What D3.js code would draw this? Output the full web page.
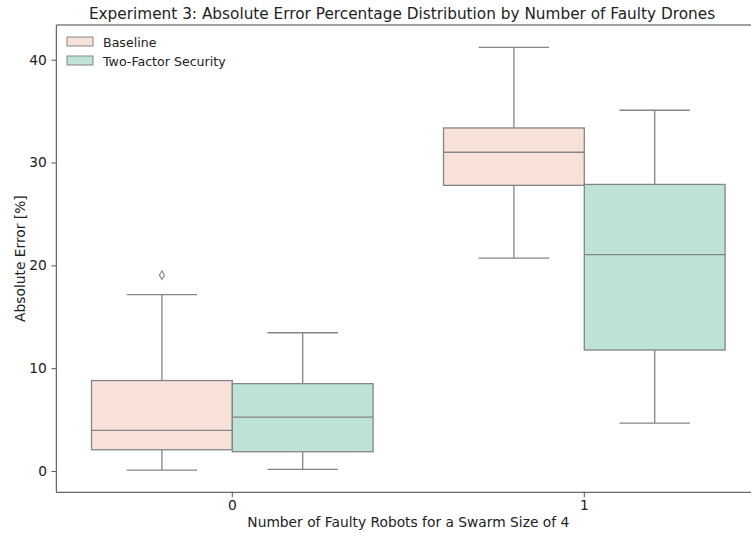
<!DOCTYPE html>
<html>
<head>
<meta charset="utf-8">
<script src="https://cdn.jsdelivr.net/npm/d3@7"></script>
<style>
body{margin:0;background:#fff;}
text{font-family:"DejaVu Sans",sans-serif;fill:#222;}
</style>
</head>
<body>
<script>
const categories=["0","1"];
const groups=["Baseline","Two-Factor Security"];
// [whiskerLow, q1, median, q3, whiskerHigh] per category
const baseline=[[0.1,2.07,3.95,8.8,17.15],[20.7,27.78,31.0,33.36,41.2]];
const twoFactor=[[0.16,1.88,5.24,8.5,13.45],[4.66,11.77,21.05,27.87,35.08]];
const baselineOutliers=[[19.05],[]];
const twoFactorOutliers=[[],[]];
const yTicks=[0,10,20,30,40];

const w=751,h=533;
const mLeft=56.3,mRight=760.3,mTop=25,mBottom=492.3;
const fills=["#f7e1d9","#bde3d6"];
const edge="#858585";

const svg=d3.select("body").append("svg")
  .attr("width",w).attr("height",h);

let x=d3.scaleBand().domain(categories).range([mLeft,mRight]).paddingInner(0).paddingOuter(0);
let xg=d3.scaleBand().domain(groups).range([0,x.bandwidth()]).paddingOuter(0.25);
let y=d3.scaleLinear().domain([-2.065,43.37]).range([mBottom,mTop]);

const series=[baseline,twoFactor];
const outl=[baselineOutliers,twoFactorOutliers];

series.forEach((s,gi)=>{
  s.forEach((d,ci)=>{
    const x0=x(categories[ci])+xg(groups[gi]);
    const bw=xg.bandwidth();
    const cx=x0+bw/2;
    const g=svg.append("g");
    g.append("line").attr("x1",cx).attr("x2",cx).attr("y1",y(d[0])).attr("y2",y(d[1]))
      .attr("stroke",edge).attr("stroke-width",1.3);
    g.append("line").attr("x1",cx).attr("x2",cx).attr("y1",y(d[3])).attr("y2",y(d[4]))
      .attr("stroke",edge).attr("stroke-width",1.3);
    [d[0],d[4]].forEach(v=>{
      g.append("line").attr("x1",cx-bw/4).attr("x2",cx+bw/4).attr("y1",y(v)).attr("y2",y(v))
        .attr("stroke",edge).attr("stroke-width",1.3);
    });
    g.append("rect").attr("x",x0).attr("width",bw)
      .attr("y",y(d[3])).attr("height",y(d[1])-y(d[3]))
      .attr("fill",fills[gi]).attr("stroke",edge).attr("stroke-width",1.3);
    g.append("line").attr("x1",x0).attr("x2",x0+bw).attr("y1",y(d[2])).attr("y2",y(d[2]))
      .attr("stroke",edge).attr("stroke-width",1.3);
    outl[gi][ci].forEach(v=>{
      g.append("path").attr("d",d3.symbol(d3.symbolDiamond,22)())
        .attr("transform","translate("+cx+","+y(v)+")")
        .attr("fill","none").attr("stroke",edge).attr("stroke-width",1.1);
    });
  });
});

// axes
const ya=svg.append("g").attr("transform","translate("+mLeft+",0)")
  .call(d3.axisLeft(y).tickValues(yTicks).tickSize(4.9).tickPadding(4.5));
const xa=svg.append("g").attr("transform","translate(0,"+mBottom+")")
  .call(d3.axisBottom(x).tickSize(4.9).tickPadding(3.5));
[ya,xa].forEach(a=>{
  a.select(".domain").remove();
  a.selectAll(".tick line").attr("stroke","#444").attr("stroke-width",0.9);
  a.selectAll(".tick text").attr("font-size",13.8).attr("fill","#222").attr("font-family","DejaVu Sans");
});
// spines
svg.append("line").attr("x1",mLeft).attr("x2",mLeft).attr("y1",mTop).attr("y2",mBottom).attr("stroke","#444").attr("stroke-width",1);
svg.append("line").attr("x1",mLeft).attr("x2",mRight).attr("y1",mBottom).attr("y2",mBottom).attr("stroke","#444").attr("stroke-width",1);
svg.append("line").attr("x1",mLeft).attr("x2",mRight).attr("y1",mTop).attr("y2",mTop).attr("stroke","#444").attr("stroke-width",1);

svg.append("text").attr("x",(mLeft+mRight)/2).attr("y",527)
  .attr("text-anchor","middle").attr("font-size",13.8)
  .text("Number of Faulty Robots for a Swarm Size of 4");
svg.append("text").attr("transform","translate(25,"+((mTop+mBottom)/2)+") rotate(-90)")
  .attr("text-anchor","middle").attr("font-size",13.8)
  .text("Absolute Error [%]");
svg.append("text").attr("x",402).attr("y",19)
  .attr("text-anchor","middle").attr("font-size",15.3)
  .text("Experiment 3: Absolute Error Percentage Distribution by Number of Faulty Drones");

// legend
const lg=svg.append("g").attr("transform","translate(67,36)");
groups.forEach((name,i)=>{
  lg.append("rect").attr("x",0).attr("y",i*19+1).attr("width",26).attr("height",9)
    .attr("fill",fills[i]).attr("stroke",edge).attr("stroke-width",1);
  lg.append("text").attr("x",36).attr("y",i*19+10.5).attr("font-size",12.6).text(name);
});
</script>
</body>
</html>
